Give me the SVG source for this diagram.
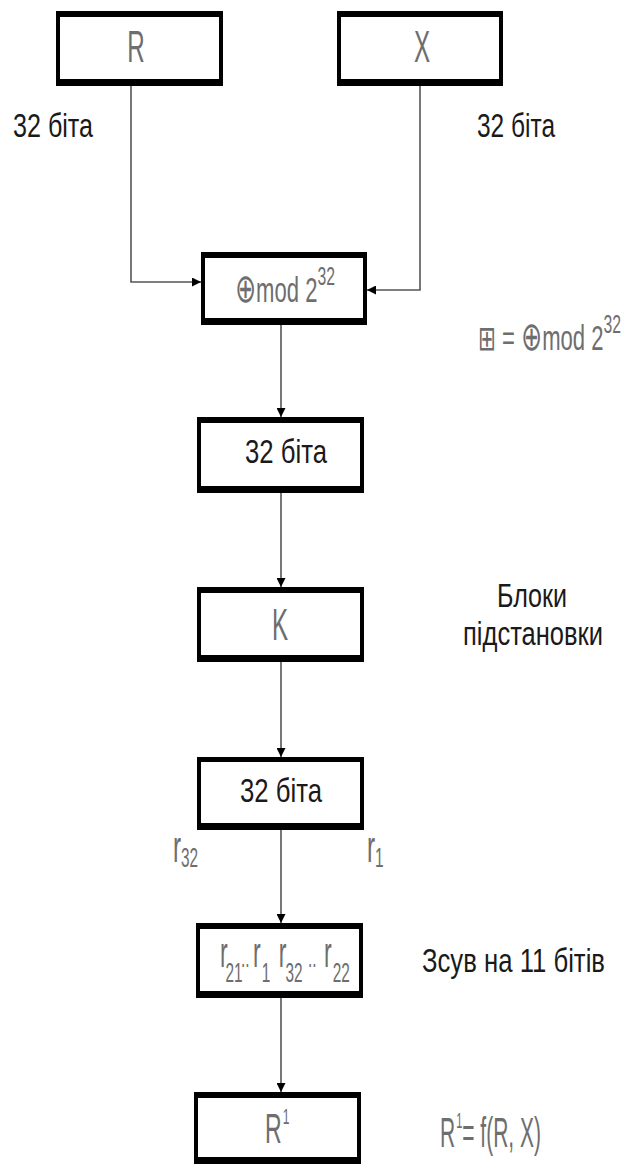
<svg xmlns="http://www.w3.org/2000/svg" width="639" height="1166" viewBox="0 0 639 1166">
<style>
.ob{fill:#000}
.ib{fill:#fff}
.ln{fill:none;stroke:#555;stroke-width:1.6}
.bk{font-family:"Liberation Sans",Arial,sans-serif;fill:#1a1a1a;font-size:33px}
.gr{font-family:"Liberation Sans",Arial,sans-serif;fill:#6e6e6e}
.sym{font-family:"DejaVu Sans",sans-serif}
</style>
<defs>
<marker id="ah" viewBox="0 0 10 10" refX="10" refY="5" markerWidth="11" markerHeight="9" orient="auto" markerUnits="userSpaceOnUse">
<path d="M0,0 L10,5 L0,10 z" fill="#000"/>
</marker>
</defs>
<rect width="639" height="1166" fill="#fff"/>
<g id="connectors">
<path class="ln" d="M131,86 V282 H201" marker-end="url(#ah)"/>
<path class="ln" d="M420,86 V290 H367" marker-end="url(#ah)"/>
<path class="ln" d="M281,325 V417" marker-end="url(#ah)"/>
<path class="ln" d="M281,493 V587" marker-end="url(#ah)"/>
<path class="ln" d="M281,662 V757" marker-end="url(#ah)"/>
<path class="ln" d="M281,830 V923" marker-end="url(#ah)"/>
<path class="ln" d="M281,998 V1092" marker-end="url(#ah)"/>
</g>
<g id="node-R">
<rect class="ob" x="56" y="11" width="167" height="75"/>
<rect class="ib" x="60" y="17" width="159" height="62"/>
<text class="gr" font-size="44" text-anchor="middle" transform="translate(136,62) scale(0.55,1)">R</text>
</g>
<g id="node-X">
<rect class="ob" x="337" y="11" width="166" height="75"/>
<rect class="ib" x="341" y="17" width="158" height="62"/>
<text class="gr" font-size="44" text-anchor="middle" transform="translate(422,62) scale(0.55,1)">X</text>
</g>
<g id="label-32-left"><text class="bk" x="13" y="137" textLength="80" lengthAdjust="spacingAndGlyphs">32 біта</text></g>
<g id="label-32-right"><text class="bk" x="477" y="137" textLength="78" lengthAdjust="spacingAndGlyphs">32 біта</text></g>
<g id="node-mod">
<rect class="ob" x="201" y="252" width="166" height="73"/>
<rect class="ib" x="205" y="258" width="158" height="60"/>
<text class="gr" font-size="35" transform="translate(235,302) scale(0.63,1)"><tspan class="sym" font-size="40">⊕</tspan><tspan>mod 2</tspan><tspan font-size="25" dy="-17">32</tspan></text>
</g>
<g id="legend">
<text class="gr" font-size="35" transform="translate(478,350) scale(0.63,1)"><tspan class="sym" font-size="34">⊞</tspan><tspan> = </tspan><tspan class="sym" font-size="40">⊕</tspan><tspan>mod 2</tspan><tspan font-size="25" dy="-17">32</tspan></text>
</g>
<g id="node-32a">
<rect class="ob" x="197" y="417" width="167" height="76"/>
<rect class="ib" x="201" y="423" width="159" height="63"/>
<text class="bk" x="245" y="463" textLength="82" lengthAdjust="spacingAndGlyphs">32 біта</text>
</g>
<g id="node-K">
<rect class="ob" x="197" y="587" width="167" height="75"/>
<rect class="ib" x="201" y="593" width="159" height="62"/>
<text class="gr" font-size="44" text-anchor="middle" transform="translate(280,640) scale(0.55,1)">K</text>
</g>
<g id="label-sbox">
<text class="bk" font-size="30" x="497" y="607" textLength="70" lengthAdjust="spacingAndGlyphs">Блоки</text>
<text class="bk" font-size="30" x="463" y="645" textLength="140" lengthAdjust="spacingAndGlyphs">підстановки</text>
</g>
<g id="node-32b">
<rect class="ob" x="197" y="757" width="167" height="73"/>
<rect class="ib" x="201" y="762" width="159" height="61"/>
<text class="bk" x="240" y="802" textLength="82" lengthAdjust="spacingAndGlyphs">32 біта</text>
</g>
<g id="label-r32">
<text class="gr" font-size="44" transform="translate(173,862) scale(0.55,1)">r<tspan font-size="28" dy="5">32</tspan></text>
</g>
<g id="label-r1">
<text class="gr" font-size="44" transform="translate(367,862) scale(0.55,1)">r<tspan font-size="28" dy="5">1</tspan></text>
</g>
<g id="node-shift">
<rect class="ob" x="196" y="923" width="167" height="75"/>
<rect class="ib" x="200" y="929" width="159" height="62"/>
<text class="gr" font-size="42" transform="translate(0,967) scale(0.55,1)"><tspan x="400" y="0">r</tspan><tspan x="410" y="15" font-size="28">21</tspan><tspan x="438" y="0" font-size="28">..</tspan><tspan x="460" y="0">r</tspan><tspan x="476" y="15" font-size="28">1</tspan><tspan x="507" y="0">r</tspan><tspan x="519" y="15" font-size="28">32</tspan><tspan x="560" y="0" font-size="28">..</tspan><tspan x="589" y="0">r</tspan><tspan x="605" y="15" font-size="28">22</tspan></text>
</g>
<g id="label-shift"><text class="bk" x="422" y="972" textLength="183" lengthAdjust="spacingAndGlyphs">Зсув на 11 бітів</text></g>
<g id="node-R1">
<rect class="ob" x="194" y="1092" width="167" height="72"/>
<rect class="ib" x="198" y="1098" width="159" height="59"/>
<text class="gr" font-size="42" transform="translate(265,1143) scale(0.55,1)">R<tspan font-size="22" dx="2" dy="-19">1</tspan></text>
</g>
<g id="label-formula">
<text class="gr" font-size="42" transform="translate(440,1147) scale(0.5,1)">R<tspan font-size="22" dx="2" dy="-19">1</tspan><tspan dy="19">= f(R, X)</tspan></text>
</g>
</svg>
